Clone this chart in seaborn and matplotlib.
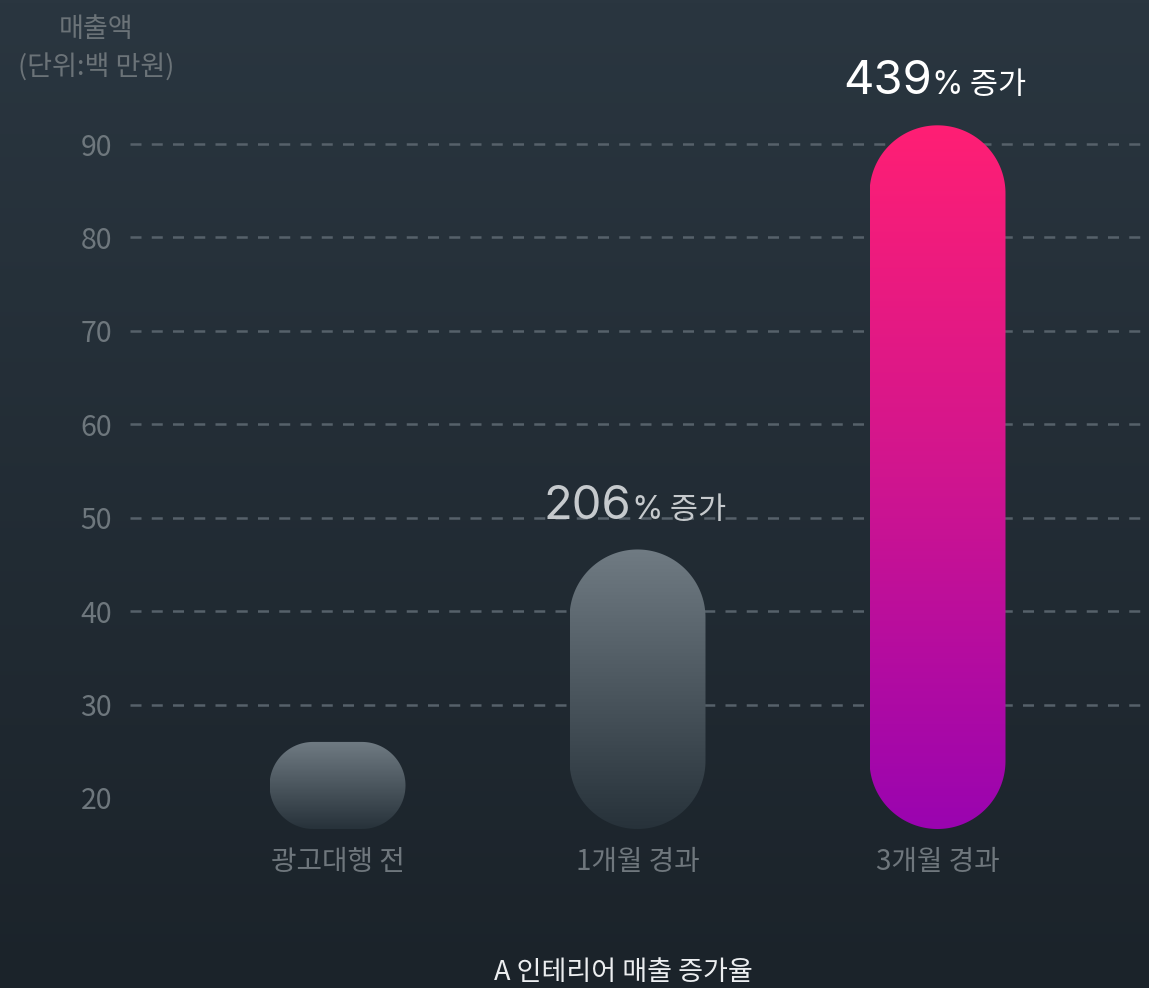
import numpy as np
import pandas as pd
import matplotlib
matplotlib.use("Agg")
import matplotlib.pyplot as plt
import seaborn as sns
from matplotlib.patches import Polygon
from matplotlib.colors import LinearSegmentedColormap
from matplotlib.offsetbox import TextArea, HPacker, AnnotationBbox

# ---- data -------------------------------------------------------------
categories = ["광고대행 전", "1개월 경과", "3개월 경과"]
sales = [26.0, 46.6, 92.0]               # 매출액 (백 만원)
growth_numbers = ["", "206", "439"]      # 증가율 (%)
growth_suffix = "%"
growth_word = " 증가"
y_ticks = [20, 30, 40, 50, 60, 70, 80, 90]
y_label = "매출액\n(단위:백 만원)"
title = "A 인테리어 매출 증가율"

# ---- styling ----------------------------------------------------------
W, H, DPI = 1149, 988, 100
KR = "Noto Sans CJK KR"
sns.set_theme(style="white")
plt.rcParams["font.family"] = [KR, "DejaVu Sans"]

fig = plt.figure(figsize=(W / DPI, H / DPI), dpi=DPI)

# dark vertical gradient behind everything
bg = fig.add_axes([0, 0, 1, 1], zorder=-10)
bg_cmap = LinearSegmentedColormap.from_list("bg", ["#2a3640", "#1b232a"])
bg.imshow(np.linspace(0, 1, 256).reshape(-1, 1), cmap=bg_cmap,
          aspect="auto", extent=[0, 1, 0, 1])
bg.set_axis_off()

ax = fig.add_axes([130 / W, 1 - 829 / H, 1 - 130 / W, (829 - 100) / H])
ax.patch.set_alpha(0)

df = pd.DataFrame({"stage": categories, "sales": sales})
sns.barplot(data=df, x="stage", y="sales", ax=ax, width=136 / 300,
            color="#6f7a82", saturation=1)

ylim = (16.68, 94.71)
xlim = (-0.6917, 2.705)
ax.set_ylim(*ylim)
ax.set_xlim(*xlim)

# aspect factor so that rounded caps stay circular in screen space
fig.canvas.draw()
dx_pp = (xlim[1] - xlim[0]) / ax.bbox.width
dy_pp = (ylim[1] - ylim[0]) / ax.bbox.height
m = dy_pp / dx_pp


def pill_vertices(x0, w, y0, y1, n=60):
    """Stadium outline (fully rounded ends) in data coordinates."""
    h = (y1 - y0) / m                       # height in x-equivalent units
    r = min(w, h) / 2
    cx_l, cx_r = x0 + r, x0 + w - r
    cy_b, cy_t = r, h - r
    t = np.linspace(0, np.pi / 2, n)
    pts = []
    pts += list(zip(cx_r + r * np.cos(t), cy_t + r * np.sin(t)))               # top right
    pts += list(zip(cx_l - r * np.sin(t), cy_t + r * np.cos(t)))               # top left
    pts += list(zip(cx_l - r * np.cos(t), cy_b - r * np.sin(t)))               # bottom left
    pts += list(zip(cx_r + r * np.sin(t), cy_b - r * np.cos(t)))               # bottom right
    pts = np.array(pts)
    pts[:, 1] = y0 + pts[:, 1] * m
    return pts


grey_cmap = LinearSegmentedColormap.from_list("grey", ["#707b83", "#27323a"])
pink_cmap = LinearSegmentedColormap.from_list("pink", ["#ff1f74", "#d0158f", "#9a04b0"])
bar_cmaps = [grey_cmap, grey_cmap, pink_cmap]

bars = list(ax.patches)
grad = np.linspace(0, 1, 256).reshape(-1, 1)
for bar, cmap in zip(bars, bar_cmaps):
    x0, w, top = bar.get_x(), bar.get_width(), bar.get_height()
    bar.remove()
    base = ylim[0]
    pill = Polygon(pill_vertices(x0, w, base, top), closed=True,
                   facecolor="none", edgecolor="none", zorder=2)
    ax.add_patch(pill)
    im = ax.imshow(grad, cmap=cmap, aspect="auto", zorder=2,
                   extent=(x0, x0 + w, base, top), origin="upper")
    im.set_clip_path(pill)

ax.set_ylim(*ylim)
ax.set_xlim(*xlim)

# growth labels above the bars
label_colors = ["#c6cacd", "#c6cacd", "#ffffff"]
for i, (num, val) in enumerate(zip(growth_numbers, sales)):
    if not num:
        continue
    c = label_colors[i]
    box = HPacker(children=[
        TextArea(num, textprops=dict(family="Inter", fontsize=34, color=c,
                                     fontweight="normal")),
        TextArea(growth_suffix, textprops=dict(family="Inter", fontsize=23, color=c)),
        TextArea(growth_word, textprops=dict(family=KR, fontsize=22, color=c,
                                             fontweight="light")),
    ], align="baseline", pad=0, sep=0)
    ab = AnnotationBbox(box, (i, val), xybox=(-2, 15), xycoords="data",
                        boxcoords="offset points", box_alignment=(0.5, 0),
                        frameon=False, pad=0, annotation_clip=False, zorder=5)
    ax.add_artist(ab)

# axes, ticks and grid
ax.set_yticks(y_ticks)
ax.set_xlabel("")
ax.set_ylabel("")
for s in ax.spines.values():
    s.set_visible(False)
ax.set_axisbelow(True)
ax.yaxis.grid(True, color="#56616a", linewidth=1.8, linestyle=(0, (4.4, 4.1)))
ax.xaxis.grid(False)
ax.get_ygridlines()[0].set_visible(False)
ax.tick_params(axis="y", length=0, pad=13, labelsize=20.5, labelcolor="#6e777d")
ax.tick_params(axis="x", length=0, pad=13, labelsize=20, labelcolor="#6f777d")

fig.text(96 / W, 1 - 49 / H, y_label, ha="center", va="center",
         fontsize=19.5, color="#6b7378", linespacing=1.5, multialignment="center")
fig.text(623.5 / W, 1 - 972 / H, title, ha="center", va="center",
         fontsize=19.5, color="#eceef0", fontweight="light")

fig.savefig("out.png", dpi=DPI)
